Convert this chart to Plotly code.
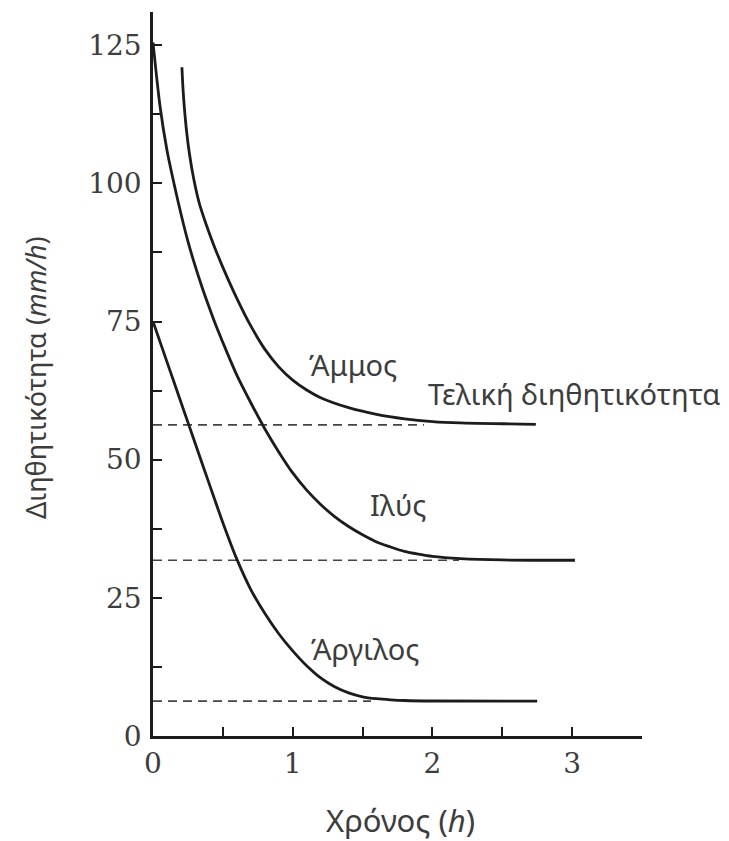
import plotly.graph_objects as go

# ---- data ----
sand_t = [0.207, 0.215, 0.225, 0.24, 0.26, 0.29, 0.33, 0.38, 0.44, 0.50, 0.60, 0.70, 0.80, 0.90, 1.00, 1.10, 1.20, 1.40, 1.60, 1.80, 2.00, 2.20, 2.50, 2.74]
sand_f = [121.0, 117.0, 113.5, 109.5, 105.5, 101.0, 96.5, 92.6, 88.5, 84.8, 79.2, 74.2, 70.0, 66.8, 64.4, 62.6, 61.2, 59.4, 58.2, 57.4, 56.9, 56.65, 56.5, 56.4]

silt_t = [0.0, 0.05, 0.10, 0.15, 0.20, 0.25, 0.30, 0.35, 0.40, 0.45, 0.50, 0.60, 0.70, 0.80, 0.90, 1.00, 1.10, 1.20, 1.30, 1.40, 1.50, 1.60, 1.70, 1.80, 1.90, 2.00, 2.20, 2.50, 3.02]
silt_f = [125.5, 114.0, 106.0, 100.0, 94.5, 89.5, 85.2, 81.3, 77.7, 74.3, 71.2, 65.3, 60.3, 55.6, 51.4, 47.6, 44.5, 41.9, 39.7, 37.9, 36.4, 35.1, 34.2, 33.4, 32.9, 32.5, 32.1, 31.85, 31.8]

clay_t = [0.0, 0.10, 0.20, 0.30, 0.40, 0.50, 0.60, 0.70, 0.80, 0.90, 1.00, 1.10, 1.20, 1.30, 1.40, 1.50, 1.60, 1.70, 1.80, 2.00, 2.75]
clay_f = [75.0, 67.7, 60.4, 53.1, 45.8, 38.6, 32.0, 26.5, 22.2, 18.5, 15.4, 12.7, 10.5, 8.9, 7.8, 7.1, 6.75, 6.55, 6.42, 6.33, 6.3]

final_rates = [56.3, 31.8, 6.3]
final_dash_end = [1.94, 2.19, 1.56]

soil_names = ["Άμμος", "Ιλύς", "Άργιλος"]
label_x = [1.43, 1.75, 1.52]
label_y = [67.3, 41.9, 15.9]
final_label = "Τελική διηθητικότητα"
final_label_xy = (3.01, 62.0)

x_ticks = [0, 1, 2, 3]
x_minor = [0.5, 1.5, 2.5]
y_ticks = [0, 25, 50, 75, 100, 125]
y_minor = [12.5, 37.5, 62.5, 87.5, 112.5]

x_title = "Χρόνος (<i>h</i>)"
y_title = "Διηθητικότητα (<i>mm/h</i>)"

LINE = "#1c1c1c"
TEXT = "#3d3d3d"
SANS = "Noto Sans, DejaVu Sans, sans-serif"
SERIF = "DejaVu Serif, Liberation Serif, serif"

fig = go.Figure()

for v, xe in zip(final_rates, final_dash_end):
    fig.add_trace(go.Scatter(x=[0, xe], y=[v, v], mode="lines",
                             line=dict(color="#444444", width=1.7, dash="9px,6px"),
                             hoverinfo="skip", showlegend=False))

for t, f in [(sand_t, sand_f), (silt_t, silt_f), (clay_t, clay_f)]:
    fig.add_trace(go.Scatter(x=t, y=f, mode="lines",
                             line=dict(color=LINE, width=2.8, shape="spline", smoothing=0.8),
                             hoverinfo="skip", showlegend=False))

for name, lx, ly in zip(soil_names, label_x, label_y):
    fig.add_annotation(x=lx, y=ly, text=name, showarrow=False, xanchor="center", yanchor="middle",
                       font=dict(family=SANS, size=29, color=TEXT))
fig.add_annotation(x=final_label_xy[0], y=final_label_xy[1], text=final_label, showarrow=False,
                   xanchor="center", yanchor="middle",
                   font=dict(family=SANS, size=29, color=TEXT))

fig.add_annotation(xref="paper", yref="paper", x=0.507, y=-0.116, text=x_title, showarrow=False,
                   xanchor="center", yanchor="middle",
                   font=dict(family=SANS, size=31, color=TEXT))
fig.add_annotation(xref="paper", yref="paper", x=-0.2405, y=0.495, text=y_title, showarrow=False,
                   xanchor="center", yanchor="middle",
                   textangle=-90, font=dict(family=SANS, size=27, color=TEXT))

fig.update_xaxes(range=[0, 3.5], tickvals=x_ticks, ticks="inside", ticklen=9, tickwidth=2,
                 tickcolor=LINE, showline=True, linecolor=LINE, linewidth=2.5,
                 showgrid=False, zeroline=False,
                 minor=dict(tickvals=x_minor, ticks="inside", ticklen=9, tickwidth=2, tickcolor=LINE),
                 tickfont=dict(family=SERIF, size=28, color=TEXT), ticklabelstandoff=1)
fig.update_yaxes(range=[0, 131], tickvals=y_ticks, ticks="inside", ticklen=9, tickwidth=2,
                 tickcolor=LINE, showline=True, linecolor=LINE, linewidth=2.5,
                 showgrid=False, zeroline=False,
                 minor=dict(tickvals=y_minor, ticks="inside", ticklen=9, tickwidth=2, tickcolor=LINE),
                 tickfont=dict(family=SERIF, size=28, color=TEXT), ticklabelstandoff=3)

# body margin of the page is 8px, so the figure is offset by 8px; compensate in margins
fig.update_layout(width=729, height=841, plot_bgcolor="white", paper_bgcolor="white",
                  margin=dict(l=145, r=95, t=4, b=113), showlegend=False)

fig.write_html("out.html")
